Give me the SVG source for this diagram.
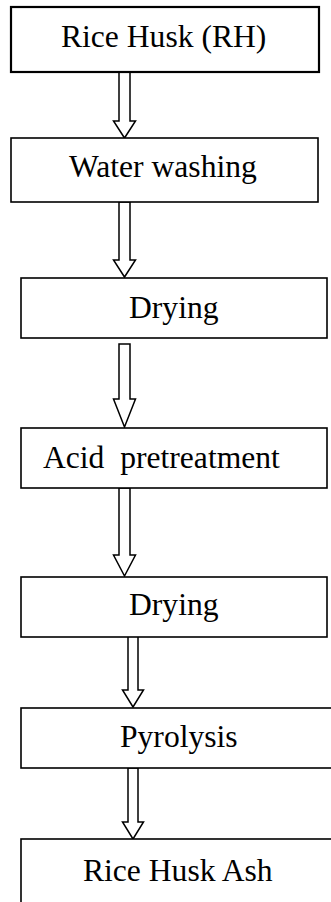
<svg xmlns="http://www.w3.org/2000/svg" width="331" height="902" viewBox="0 0 331 902">
<style>
.box{fill:#fff;stroke:#000;stroke-width:1.6}
.thick{stroke-width:2.2}
.arr{fill:#fff;stroke:#000;stroke-width:1.5;stroke-linejoin:miter}
text{font-family:"Liberation Serif","Times New Roman",serif;font-size:31.6px;fill:#000;white-space:pre}
</style>
<rect width="331" height="902" fill="#fff"/>
<g id="connectors">
<path class="arr" d="M119,72 V121 H113.5 L124.5,138 L135.5,121 H130 V72 Z"/>
<path class="arr" d="M119,202 V260 H113.5 L124.5,277 L135.5,260 H130 V202 Z"/>
<path class="arr" d="M119,344 V399 H113.5 L124.5,427 L135.5,399 H130 V344 Z"/>
<path class="arr" d="M119,488 V555 H113.5 L124.5,576 L135.5,555 H130 V488 Z"/>
<path class="arr" d="M128,636 V690 H122.5 L133,707 L143.5,690 H138 V636 Z"/>
<path class="arr" d="M128,768 V822 H122.5 L133,839 L143.5,822 H138 V768 Z"/>
</g>
<g id="n1"><rect class="box thick" x="11" y="7" width="308" height="65"/><text x="61" y="47">Rice Husk (RH)</text></g>
<g id="n2"><rect class="box" x="11" y="138" width="307" height="64"/><text x="69" y="177">Water washing</text></g>
<g id="n3"><rect class="box" x="21" y="278" width="306" height="60"/><text x="129" y="318">Drying</text></g>
<g id="n4"><rect class="box" x="21" y="428" width="306" height="60"/><text x="43" y="468">Acid  pretreatment</text></g>
<g id="n5"><rect class="box" x="21" y="577" width="306" height="60"/><text x="129" y="615">Drying</text></g>
<g id="n6"><rect class="box" x="21" y="708" width="320" height="60"/><text x="120" y="747">Pyrolysis</text></g>
<g id="n7"><rect class="box" x="21" y="839" width="320" height="80"/><text x="83" y="881">Rice Husk Ash</text></g>
</svg>
